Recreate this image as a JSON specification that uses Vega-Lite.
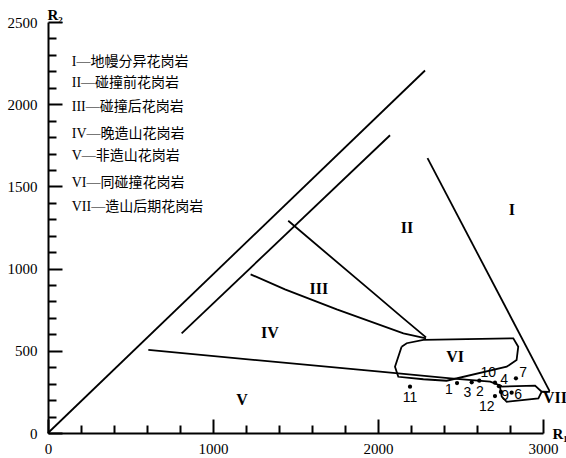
{
  "$schema": "https://vega.github.io/schema/vega-lite/v6.json",
  "width": 495,
  "height": 411,
  "autosize": "none",
  "padding": {"left": 48, "top": 22, "right": 23, "bottom": 25},
  "config": {
    "view": {"stroke": null},
    "axis": {"grid": false, "domainColor": "black", "tickColor": "black", "labelColor": "black", "titleColor": "black", "labelFont": "Liberation Serif", "titleFont": "Liberation Serif"}
  },
  "datasets": {
    "lines": [
      {"g": "L1", "o": 1, "x": 0, "y": 0},
      {"g": "L1", "o": 2, "x": 2285, "y": 2205},
      {"g": "L2", "o": 1, "x": 810, "y": 606},
      {"g": "L2", "o": 2, "x": 2073, "y": 1811},
      {"g": "L3", "o": 1, "x": 1456, "y": 1291},
      {"g": "L3", "o": 2, "x": 1972, "y": 852},
      {"g": "L3", "o": 3, "x": 2150, "y": 700},
      {"g": "L3", "o": 4, "x": 2291, "y": 582},
      {"g": "L4", "o": 1, "x": 1228, "y": 965},
      {"g": "L4", "o": 2, "x": 1436, "y": 874},
      {"g": "L4", "o": 3, "x": 1750, "y": 752},
      {"g": "L4", "o": 4, "x": 2154, "y": 606},
      {"g": "L4", "o": 5, "x": 2291, "y": 576},
      {"g": "L5", "o": 1, "x": 2300, "y": 1672},
      {"g": "L5", "o": 2, "x": 3040, "y": 255},
      {"g": "L6", "o": 1, "x": 608, "y": 505},
      {"g": "L6", "o": 2, "x": 2012, "y": 373},
      {"g": "L6", "o": 3, "x": 2440, "y": 332},
      {"g": "L6", "o": 4, "x": 2680, "y": 312},
      {"g": "L6", "o": 5, "x": 2750, "y": 285},
      {"g": "VI", "o": 1, "x": 2143, "y": 525},
      {"g": "VI", "o": 2, "x": 2103, "y": 403},
      {"g": "VI", "o": 3, "x": 2123, "y": 342},
      {"g": "VI", "o": 4, "x": 2275, "y": 327},
      {"g": "VI", "o": 5, "x": 2416, "y": 318},
      {"g": "VI", "o": 6, "x": 2780, "y": 403},
      {"g": "VI", "o": 7, "x": 2840, "y": 444},
      {"g": "VI", "o": 8, "x": 2850, "y": 525},
      {"g": "VI", "o": 9, "x": 2820, "y": 576},
      {"g": "VI", "o": 10, "x": 2275, "y": 566},
      {"g": "VI", "o": 11, "x": 2174, "y": 546},
      {"g": "VI", "o": 12, "x": 2143, "y": 525},
      {"g": "VII", "o": 1, "x": 2739, "y": 282},
      {"g": "VII", "o": 2, "x": 2952, "y": 288},
      {"g": "VII", "o": 3, "x": 2992, "y": 251},
      {"g": "VII", "o": 4, "x": 2972, "y": 211},
      {"g": "VII", "o": 5, "x": 2780, "y": 190},
      {"g": "VII", "o": 6, "x": 2750, "y": 221},
      {"g": "VII", "o": 7, "x": 2739, "y": 282},
      {"g": "VIIL", "o": 1, "x": 2992, "y": 251},
      {"g": "VIIL", "o": 2, "x": 3042, "y": 250}
    ],
    "pts": [
      {"n": "1", "x": 2479, "y": 304, "lx": 2430, "ly": 262},
      {"n": "2", "x": 2614, "y": 318, "lx": 2618, "ly": 251},
      {"n": "3", "x": 2568, "y": 308, "lx": 2542, "ly": 245},
      {"n": "4", "x": 2733, "y": 285, "lx": 2764, "ly": 322},
      {"n": "6", "x": 2810, "y": 245, "lx": 2850, "ly": 231},
      {"n": "7", "x": 2836, "y": 333, "lx": 2880, "ly": 363},
      {"n": "9", "x": 2745, "y": 250, "lx": 2770, "ly": 225},
      {"n": "10", "x": 2709, "y": 306, "lx": 2668, "ly": 363},
      {"n": "11", "x": 2194, "y": 282, "lx": 2194, "ly": 211},
      {"n": "12", "x": 2709, "y": 225, "lx": 2659, "ly": 156}
    ],
    "regions": [
      {"t": "I", "x": 2812, "y": 1356},
      {"t": "II", "x": 2176, "y": 1247},
      {"t": "III", "x": 1642, "y": 876},
      {"t": "IV", "x": 1345, "y": 608},
      {"t": "V", "x": 1176, "y": 201},
      {"t": "VI", "x": 2467, "y": 462},
      {"t": "VII", "x": 3073, "y": 213}
    ],
    "legend": [
      {"t": "I—地幔分异花岗岩", "x": 144, "y": 2258},
      {"t": "II—碰撞前花岗岩", "x": 144, "y": 2127},
      {"t": "III—碰撞后花岗岩", "x": 144, "y": 1981},
      {"t": "IV—晚造山花岗岩", "x": 144, "y": 1817},
      {"t": "V—非造山花岗岩", "x": 144, "y": 1685},
      {"t": "VI—同碰撞花岗岩", "x": 144, "y": 1519},
      {"t": "VII—造山后期花岗岩", "x": 144, "y": 1377}
    ]
  },
  "resolve": {"axis": {"x": "independent", "y": "independent"}},
  "layer": [
    {
      "data": {"name": "lines"},
      "mark": {"type": "line", "color": "black", "strokeWidth": 1.8},
      "encoding": {
        "x": {"field": "x", "type": "quantitative", "scale": {"domain": [0, 3000], "nice": false, "zero": false},
          "axis": {"orient": "bottom", "values": [0, 1000, 2000, 3000], "format": "d", "tickSize": -14, "tickWidth": 2, "domainWidth": 2, "labelPadding": 22, "labelFontSize": 15, "labelFlush": false, "title": "R₁", "titleFontSize": 15, "titleFontWeight": "bold", "titleX": 504, "titleY": 0, "titleAlign": "left", "titleBaseline": "middle"}},
        "y": {"field": "y", "type": "quantitative", "scale": {"domain": [0, 2500], "nice": false, "zero": false},
          "axis": {"orient": "left", "values": [0, 500, 1000, 1500, 2000, 2500], "format": "d", "tickSize": -14, "tickWidth": 2, "domainWidth": 2, "labelPadding": 25, "labelFontSize": 15, "title": "R₂", "titleFontSize": 15, "titleFontWeight": "bold", "titleAngle": 0, "titleX": -1, "titleY": -8, "titleAlign": "left", "titleBaseline": "middle"}},
        "detail": {"field": "g"},
        "order": {"field": "o", "type": "quantitative"}
      }
    },
    {
      "data": {"name": "pts"},
      "mark": {"type": "circle", "color": "black", "size": 18, "opacity": 1},
      "encoding": {
        "x": {"field": "x", "type": "quantitative",
          "axis": {"orient": "bottom", "values": [200, 400, 600, 800, 1200, 1400, 1600, 1800, 2200, 2400, 2600, 2800], "tickSize": -8, "tickWidth": 2, "domain": false, "labels": false, "title": null}},
        "y": {"field": "y", "type": "quantitative",
          "axis": {"orient": "left", "values": [100, 200, 300, 400, 600, 700, 800, 900, 1100, 1200, 1300, 1400, 1600, 1700, 1800, 1900, 2100, 2200, 2300, 2400], "tickSize": -8, "tickWidth": 2, "domain": false, "labels": false, "title": null}}
      }
    },
    {
      "data": {"name": "pts"},
      "mark": {"type": "text", "font": "Liberation Sans", "fontSize": 14, "color": "black", "align": "center", "baseline": "middle"},
      "encoding": {
        "x": {"field": "lx", "type": "quantitative", "axis": null},
        "y": {"field": "ly", "type": "quantitative", "axis": null},
        "text": {"field": "n"}
      }
    },
    {
      "data": {"name": "regions"},
      "mark": {"type": "text", "font": "Liberation Serif", "fontSize": 16, "fontWeight": "bold", "color": "black", "align": "center", "baseline": "middle"},
      "encoding": {
        "x": {"field": "x", "type": "quantitative", "axis": null},
        "y": {"field": "y", "type": "quantitative", "axis": null},
        "text": {"field": "t"}
      }
    },
    {
      "data": {"name": "legend"},
      "mark": {"type": "text", "font": "Liberation Serif, Noto Sans CJK SC", "fontSize": 14, "color": "black", "align": "left", "baseline": "middle"},
      "encoding": {
        "x": {"field": "x", "type": "quantitative", "axis": null},
        "y": {"field": "y", "type": "quantitative", "axis": null},
        "text": {"field": "t"}
      }
    }
  ]
}
